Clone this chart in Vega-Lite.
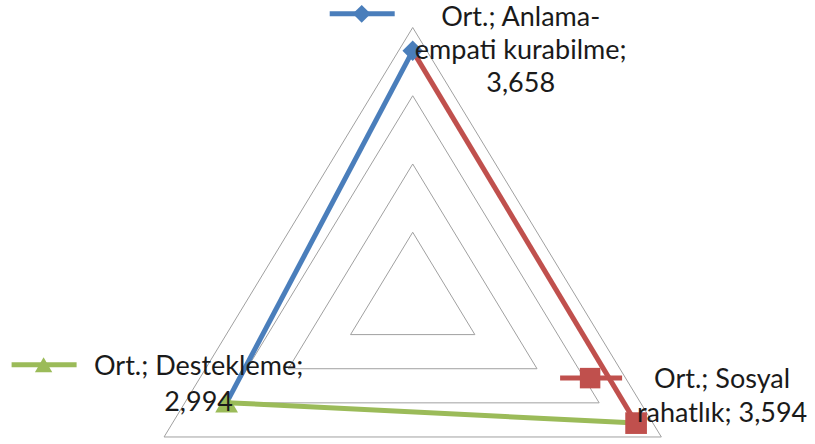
{
  "$schema": "https://vega.github.io/schema/vega-lite/v6.json",
  "width": 815,
  "height": 444,
  "autosize": {"type": "fit", "contains": "padding"},
  "padding": 0,
  "background": "white",
  "config": {"view": {"stroke": null}},
  "datasets": {
    "points": [
      {"key": "Anlama", "cat": "Anlama-empati kurabilme", "idx": 0, "value": 3.658, "label": "Ort.; Anlama-\nempati kurabilme;\n3,658"},
      {"key": "Sosyal", "cat": "Sosyal rahatlık", "idx": 1, "value": 3.594, "label": "Ort.; Sosyal\nrahatlık; 3,594"},
      {"key": "Destekleme", "cat": "Destekleme", "idx": 2, "value": 2.994, "label": "Ort.; Destekleme;\n2,994"}
    ],
    "segments": [
      {"key": "Anlama", "ord": 0, "idx": 2, "value": 2.994},
      {"key": "Anlama", "ord": 1, "idx": 0, "value": 3.658},
      {"key": "Sosyal", "ord": 0, "idx": 0, "value": 3.658},
      {"key": "Sosyal", "ord": 1, "idx": 1, "value": 3.594},
      {"key": "Destekleme", "ord": 0, "idx": 1, "value": 3.594},
      {"key": "Destekleme", "ord": 1, "idx": 2, "value": 2.994}
    ],
    "rings": [
      {"ring": 1, "idx": 0, "value": 1}, {"ring": 1, "idx": 1, "value": 1}, {"ring": 1, "idx": 2, "value": 1}, {"ring": 1, "idx": 3, "value": 1},
      {"ring": 2, "idx": 0, "value": 2}, {"ring": 2, "idx": 1, "value": 2}, {"ring": 2, "idx": 2, "value": 2}, {"ring": 2, "idx": 3, "value": 2},
      {"ring": 3, "idx": 0, "value": 3}, {"ring": 3, "idx": 1, "value": 3}, {"ring": 3, "idx": 2, "value": 3}, {"ring": 3, "idx": 3, "value": 3},
      {"ring": 4, "idx": 0, "value": 4}, {"ring": 4, "idx": 1, "value": 4}, {"ring": 4, "idx": 2, "value": 4}, {"ring": 4, "idx": 3, "value": 4}
    ]
  },
  "encoding": {
    "x": {"field": "xu", "type": "quantitative", "scale": {"domain": [-5.75, 5.605], "nice": false, "zero": false}, "axis": null},
    "y": {"field": "yu", "type": "quantitative", "scale": {"domain": [-2.103, 4.403], "nice": false, "zero": false}, "axis": null}
  },
  "layer": [
    {
      "data": {"name": "rings"},
      "transform": [
        {"calculate": "datum.value * sin(datum.idx * 2 * PI / 3)", "as": "xu"},
        {"calculate": "datum.value * cos(datum.idx * 2 * PI / 3)", "as": "yu"}
      ],
      "mark": {"type": "line", "stroke": "#a0a0a0", "strokeWidth": 1},
      "encoding": {
        "detail": {"field": "ring", "type": "nominal"},
        "order": {"field": "idx", "type": "quantitative"}
      }
    },
    {
      "data": {"name": "segments"},
      "transform": [
        {"calculate": "datum.value * sin(datum.idx * 2 * PI / 3)", "as": "xu"},
        {"calculate": "datum.value * cos(datum.idx * 2 * PI / 3)", "as": "yu"}
      ],
      "mark": {"type": "line", "strokeWidth": 5},
      "encoding": {
        "color": {"field": "key", "type": "nominal", "scale": {"domain": ["Anlama", "Sosyal", "Destekleme"], "range": ["#4a7ebb", "#c0504d", "#9bbb59"]}, "legend": null},
        "order": {"field": "ord", "type": "quantitative"}
      }
    },
    {
      "data": {"name": "points"},
      "transform": [
        {"calculate": "datum.value * sin(datum.idx * 2 * PI / 3)", "as": "xu"},
        {"calculate": "datum.value * cos(datum.idx * 2 * PI / 3)", "as": "yu"}
      ],
      "mark": {"type": "point", "filled": true, "opacity": 1},
      "encoding": {
        "color": {"field": "key", "type": "nominal", "legend": null},
        "shape": {"field": "key", "type": "nominal", "scale": {"domain": ["Anlama", "Sosyal", "Destekleme"], "range": ["diamond", "square", "triangle-up"]}, "legend": null},
        "size": {"field": "key", "type": "nominal", "scale": {"domain": ["Anlama", "Sosyal", "Destekleme"], "range": [420, 520, 340]}, "legend": null}
      }
    },
    {
      "data": {"name": "points"},
      "transform": [
        {"filter": "datum.idx == 0"},
        {"calculate": "datum.value * sin(datum.idx * 2 * PI / 3)", "as": "xu"},
        {"calculate": "datum.value * cos(datum.idx * 2 * PI / 3)", "as": "yu"}
      ],
      "mark": {"type": "rule", "strokeWidth": 5, "xOffset": -83, "x2Offset": -18, "yOffset": -37, "y2Offset": -37},
      "encoding": {
        "x2": {"field": "xu"},
        "y2": {"field": "yu"},
        "color": {"field": "key", "type": "nominal", "legend": null}
      }
    },
    {
      "data": {"name": "points"},
      "transform": [
        {"filter": "datum.idx == 1"},
        {"calculate": "datum.value * sin(datum.idx * 2 * PI / 3)", "as": "xu"},
        {"calculate": "datum.value * cos(datum.idx * 2 * PI / 3)", "as": "yu"}
      ],
      "mark": {"type": "rule", "strokeWidth": 5, "xOffset": -76, "x2Offset": -14, "yOffset": -45, "y2Offset": -45},
      "encoding": {
        "x2": {"field": "xu"},
        "y2": {"field": "yu"},
        "color": {"field": "key", "type": "nominal", "legend": null}
      }
    },
    {
      "data": {"name": "points"},
      "transform": [
        {"filter": "datum.idx == 2"},
        {"calculate": "datum.value * sin(datum.idx * 2 * PI / 3)", "as": "xu"},
        {"calculate": "datum.value * cos(datum.idx * 2 * PI / 3)", "as": "yu"}
      ],
      "mark": {"type": "rule", "strokeWidth": 5, "xOffset": -215, "x2Offset": -150, "yOffset": -38, "y2Offset": -38},
      "encoding": {
        "x2": {"field": "xu"},
        "y2": {"field": "yu"},
        "color": {"field": "key", "type": "nominal", "legend": null}
      }
    },
    {
      "data": {"name": "points"},
      "transform": [
        {"filter": "datum.idx == 0"},
        {"calculate": "datum.value * sin(datum.idx * 2 * PI / 3)", "as": "xu"},
        {"calculate": "datum.value * cos(datum.idx * 2 * PI / 3)", "as": "yu"}
      ],
      "mark": {"type": "point", "filled": true, "opacity": 1, "shape": "diamond", "size": 320, "xOffset": -51, "yOffset": -37},
      "encoding": {"color": {"field": "key", "type": "nominal", "legend": null}}
    },
    {
      "data": {"name": "points"},
      "transform": [
        {"filter": "datum.idx == 1"},
        {"calculate": "datum.value * sin(datum.idx * 2 * PI / 3)", "as": "xu"},
        {"calculate": "datum.value * cos(datum.idx * 2 * PI / 3)", "as": "yu"}
      ],
      "mark": {"type": "point", "filled": true, "opacity": 1, "shape": "square", "size": 420, "xOffset": -46, "yOffset": -45},
      "encoding": {"color": {"field": "key", "type": "nominal", "legend": null}}
    },
    {
      "data": {"name": "points"},
      "transform": [
        {"filter": "datum.idx == 2"},
        {"calculate": "datum.value * sin(datum.idx * 2 * PI / 3)", "as": "xu"},
        {"calculate": "datum.value * cos(datum.idx * 2 * PI / 3)", "as": "yu"}
      ],
      "mark": {"type": "point", "filled": true, "opacity": 1, "shape": "triangle-up", "size": 300, "xOffset": -183, "yOffset": -38},
      "encoding": {"color": {"field": "key", "type": "nominal", "legend": null}}
    },
    {
      "data": {"name": "points"},
      "transform": [
        {"filter": "datum.idx == 0"},
        {"calculate": "datum.value * sin(datum.idx * 2 * PI / 3)", "as": "xu"},
        {"calculate": "datum.value * cos(datum.idx * 2 * PI / 3)", "as": "yu"}
      ],
      "mark": {"type": "text", "font": "Lato", "fontSize": 27, "color": "#1a1a1a", "align": "center", "baseline": "middle", "lineBreak": "\n", "lineHeight": 33, "dx": 108, "dy": -33},
      "encoding": {"text": {"field": "label", "type": "nominal"}}
    },
    {
      "data": {"name": "points"},
      "transform": [
        {"filter": "datum.idx == 1"},
        {"calculate": "datum.value * sin(datum.idx * 2 * PI / 3)", "as": "xu"},
        {"calculate": "datum.value * cos(datum.idx * 2 * PI / 3)", "as": "yu"}
      ],
      "mark": {"type": "text", "font": "Lato", "fontSize": 27, "color": "#1a1a1a", "align": "center", "baseline": "middle", "lineBreak": "\n", "lineHeight": 34, "dx": 86, "dy": -43},
      "encoding": {"text": {"field": "label", "type": "nominal"}}
    },
    {
      "data": {"name": "points"},
      "transform": [
        {"filter": "datum.idx == 2"},
        {"calculate": "datum.value * sin(datum.idx * 2 * PI / 3)", "as": "xu"},
        {"calculate": "datum.value * cos(datum.idx * 2 * PI / 3)", "as": "yu"}
      ],
      "mark": {"type": "text", "font": "Lato", "fontSize": 27, "color": "#1a1a1a", "align": "center", "baseline": "middle", "lineBreak": "\n", "lineHeight": 36, "dx": -28, "dy": -36},
      "encoding": {"text": {"field": "label", "type": "nominal"}}
    }
  ]
}
